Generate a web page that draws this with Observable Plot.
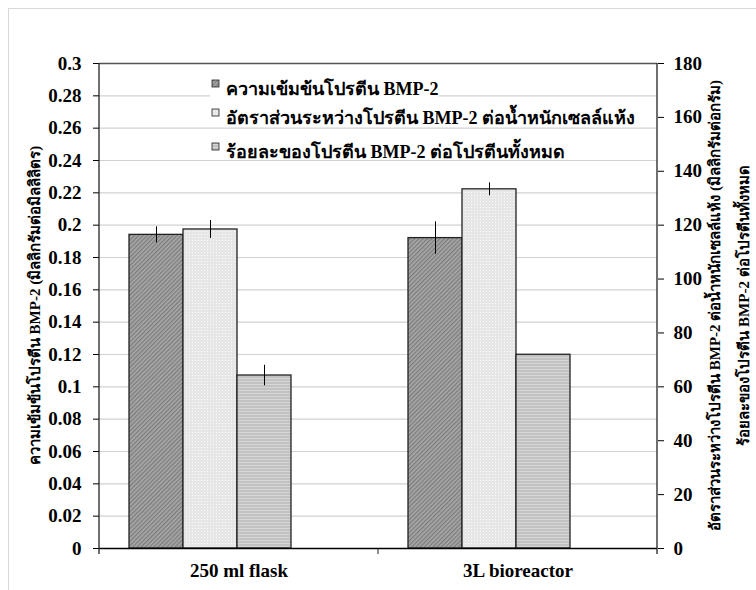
<!DOCTYPE html>
<html><head><meta charset="utf-8">
<script src="https://cdn.jsdelivr.net/npm/d3@7"></script>
<script src="https://cdn.jsdelivr.net/npm/@observablehq/plot@0.6"></script>
<style>
body{margin:0;background:#fff;}
#wrap{position:relative;width:756px;height:590px;overflow:hidden;font-family:"Liberation Serif","Times New Roman",serif;font-weight:bold;}
#border{position:absolute;left:8px;top:8px;width:760px;height:600px;border-left:1px solid #d9d9d9;border-top:1px solid #d9d9d9;}
#wrap svg{position:absolute;left:0;top:0;}
#wrap svg text{font-family:"Liberation Serif","Times New Roman",serif !important;font-weight:bold !important;}
</style></head><body><div id="wrap"><div id="border"></div></div>
<script>
// ---- data ----
const categories = ["250 ml flask", "3L bioreactor"];
const seriesNames = [
  "ความเข้มข้นโปรตีน BMP-2",
  "อัตราส่วนระหว่างโปรตีน BMP-2 ต่อน้ำหนักเซลล์แห้ง",
  "ร้อยละของโปรตีน BMP-2 ต่อโปรตีนทั้งหมด"
];
const concentration = [0.194, 0.192];      // mg/mL (left axis)
const concentrationErr = [0.005, 0.010];
const ratio = [118.4, 133.3];              // mg/g (right axis)
const ratioErr = [3.3, 2.4];
const percent = [64.2, 71.9];              // % (right axis)
const percentErr = [3.8, 0];
const leftTicks = [0, 0.02, 0.04, 0.06, 0.08, 0.1, 0.12, 0.14, 0.16, 0.18, 0.2, 0.22, 0.24, 0.26, 0.28, 0.3];
const rightTicks = [0, 20, 40, 60, 80, 100, 120, 140, 160, 180];
const leftMax = 0.3, rightMax = 180;
const leftTitle = "ความเข้มข้นโปรตีน BMP-2 (มิลลิกรัมต่อมิลลิลิตร)";
const rightTitle1 = "อัตราส่วนระหว่างโปรตีน BMP-2 ต่อน้ำหนักเซลล์แห้ง (มิลลิกรัมต่อกรัม)";
const rightTitle2 = "ร้อยละของโปรตีน BMP-2 ต่อโปรตีนทั้งหมด";
const seriesColors = ["#9d9d9d", "#e9e9e9", "#c7c7c7"];

// ---- table (right-axis series mapped into left-axis units) ----
const k = leftMax / rightMax;
const rows = [];
categories.forEach((c, i) => {
  rows.push({cat: c, series: seriesNames[0], value: concentration[i], err: concentrationErr[i]});
  rows.push({cat: c, series: seriesNames[1], value: ratio[i] * k, err: ratioErr[i] * k});
  rows.push({cat: c, series: seriesNames[2], value: percent[i] * k, err: percentErr[i] * k});
});
const fmtLeft = d => String(+d.toFixed(2));
const font = "Liberation Serif, Times New Roman, serif";

const fig = Plot.plot({
  width: 756, height: 590,
  marginLeft: 99, marginRight: 99, marginTop: 63, marginBottom: 42,
  style: {fontFamily: font, fontWeight: "bold", fontSize: "18px", color: "#000", background: "transparent"},
  fx: {domain: categories, padding: 0, label: null, axis: null},
  x: {domain: seriesNames, paddingInner: 0, paddingOuter: 1.07, align: 0.26, axis: null},
  y: {domain: [0, leftMax], axis: null},
  color: {domain: seriesNames, range: seriesColors},
  marks: [
    Plot.gridY(leftTicks, {stroke: "#d2d2d2", strokeOpacity: 1, strokeWidth: 1.2}),
    Plot.barY(rows, {fx: "cat", x: "series", y: "value", fill: "series", stroke: "#222", strokeWidth: 1.3}),
    Plot.ruleX(rows.filter(d => d.err > 0), {fx: "cat", x: "series", y1: d => d.value - d.err, y2: d => d.value + d.err, stroke: "#000", strokeWidth: 1}),
    Plot.ruleY([0], {stroke: "#000", strokeWidth: 1.3}),
    Plot.ruleY([leftMax], {stroke: "#555", strokeWidth: 1.3}),
    Plot.axisY(leftTicks, {anchor: "left", tickFormat: fmtLeft, tickSize: 6, tickPadding: 12, label: null, fontSize: 19, fontFamily: font, fontWeight: "bold"}),
    Plot.axisY(rightTicks.map(v => v * k), {anchor: "right", tickFormat: d => String(Math.round(d / k)), tickSize: 6, tickPadding: 10, label: null, fontSize: 19, fontFamily: font, fontWeight: "bold"}),
    Plot.axisFx({anchor: "bottom", tickSize: 0, tickPadding: 15, label: null, fontSize: 19, fontFamily: font, fontWeight: "bold"})
  ]
});
document.getElementById("wrap").appendChild(fig);

// ---- fill textures like the reference ----
const svg = d3.select(fig);
const defs = svg.insert("defs", ":first-child");
const p0 = defs.append("pattern").attr("id", "pDark").attr("width", 3).attr("height", 3).attr("patternUnits", "userSpaceOnUse").attr("patternTransform", "rotate(45)");
p0.append("rect").attr("width", 3).attr("height", 3).attr("fill", "#a8a8a8");
p0.append("rect").attr("width", 1.3).attr("height", 3).attr("fill", "#7c7c7c");
const p1 = defs.append("pattern").attr("id", "pLight").attr("width", 3).attr("height", 3).attr("patternUnits", "userSpaceOnUse");
p1.append("rect").attr("width", 3).attr("height", 3).attr("fill", "#e6e6e6");
p1.append("rect").attr("width", 1).attr("height", 1).attr("fill", "#fafafa");
const p2 = defs.append("pattern").attr("id", "pMid").attr("width", 3).attr("height", 3).attr("patternUnits", "userSpaceOnUse");
p2.append("rect").attr("width", 3).attr("height", 3).attr("fill", "#c2c2c2");
p2.append("rect").attr("width", 3).attr("height", 1).attr("fill", "#d6d6d6");
const patternFor = {};
patternFor[seriesColors[0]] = "url(#pDark)";
patternFor[seriesColors[1]] = "url(#pLight)";
patternFor[seriesColors[2]] = "url(#pMid)";
svg.selectAll("g[aria-label='bar'] rect").each(function () {
  const f = (this.getAttribute("fill") || "").toLowerCase();
  if (patternFor[f]) this.setAttribute("fill", patternFor[f]);
});

// ---- axis lines, boundary ticks, titles, legend (positions from the plot's scales) ----
const fx = fig.scale("fx"), y = fig.scale("y");
const x0 = fx.apply(categories[0]);
const x1 = fx.apply(categories[categories.length - 1]) + fx.bandwidth;
const yb = y.apply(0), yt = y.apply(leftMax);
const g = svg.append("g").attr("text-anchor", "start");
[x0, x1].forEach(xx => g.append("line").attr("x1", xx).attr("x2", xx).attr("y1", yt).attr("y2", yb + 6).attr("stroke", "#222").attr("stroke-width", 1.3));
categories.slice(1).forEach(c => { const xx = fx.apply(c); g.append("line").attr("x1", xx).attr("x2", xx).attr("y1", yb).attr("y2", yb + 6).attr("stroke", "#222"); });

const yc = (yb + yt) / 2;
[[40, leftTitle], [720, rightTitle1], [749, rightTitle2]].forEach(([tx, s]) => {
  g.append("text").attr("transform", `translate(${tx},${yc}) rotate(-90)`).attr("text-anchor", "middle")
    .attr("font-family", font).attr("font-weight", "bold").attr("font-size", 15).text(s);
});

const legendY = [95, 124, 158];
const legendPatterns = ["url(#pDark)", "url(#pLight)", "url(#pMid)"];
seriesNames.forEach((s, i) => {
  const lg = g.append("g");
  const t = lg.append("text").attr("x", 226).attr("y", legendY[i]).attr("text-anchor", "start").attr("font-family", font)
    .attr("font-weight", "bold").attr("font-size", 18).text(s);
  const bb = t.node().getBBox();
  lg.insert("rect", "text").attr("x", 210).attr("y", bb.y + 2).attr("width", bb.x + bb.width - 210).attr("height", bb.height - 4).attr("fill", "#fff");
  lg.append("rect").attr("x", 212).attr("y", legendY[i] - 15).attr("width", 7).attr("height", 7)
    .attr("fill", legendPatterns[i]).attr("stroke", "#222").attr("stroke-width", 0.8);
});
</script></body></html>
